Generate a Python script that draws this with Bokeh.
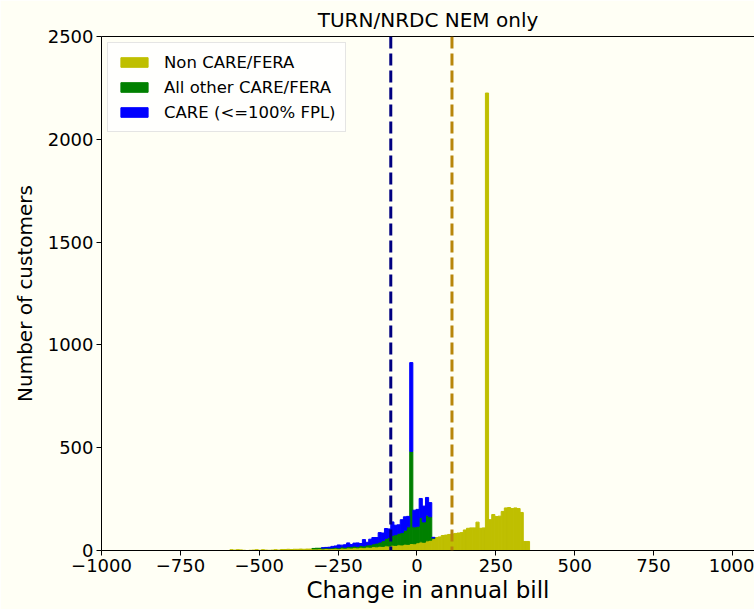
import numpy as np
from bokeh.plotting import figure
from bokeh.models import ColumnDataSource, Span, LinearAxis, FixedTicker, Range1d
from bokeh.embed import file_html
from bokeh.resources import INLINE

# ---- data ----
bin_start = -593
bin_width = 10

non_care = [4, 2, 4, 3, 1, 0, 1, 2, 4, 1, 4, 2, 1, 2, 4, 2,
            5, 5, 6, 5, 6, 6, 7, 6, 7, 7, 8, 8, 9, 8, 10,
            9, 10, 11, 9, 12, 11, 13, 12, 14, 13, 16, 14, 17, 16, 19, 18, 21, 20, 23, 22, 26, 25, 28, 27, 31, 30,
            34, 33, 38, 42, 40, 47, 50,
            58, 63, 66, 73, 75, 78, 80, 83, 85, 87, 100, 108, 110, 110, 138, 108, 110,
            2225, 150, 175, 165, 167, 190, 207, 209, 204, 207, 204, 185, 44, 44]

other_care = [0] * 26 + [2, 3, 2, 4, 3, 3, 3, 5, 4, 6, 5, 6, 7, 8, 7, 9, 8, 10, 12, 14,
                         18, 20, 28, 36, 42, 48, 52, 56, 60, 68, 85, 448, 82, 80, 118,
                         99, 125, 114, 3] + [0] * 30

care_fpl = [0] * 29 + [1, 2, 4, 7, 6, 14, 8, 12, 18, 10, 14, 17, 9, 31, 13, 27, 30, 27,
                       46, 37, 48, 41, 65, 46, 41, 63, 65, 51, 432, 81, 82, 93, 77, 86,
                       69, 3] + [0] * 30

series_values = [non_care, other_care, care_fpl]
series_names = ["Non CARE/FERA", "All other CARE/FERA", "CARE (<=100% FPL)"]
series_colors = ["#bfbf00", "#008000", "#0000ff"]

mean_care = -83
mean_non = 111

x_ticks = [-1000, -750, -500, -250, 0, 250, 500, 750, 1000]
x_tick_labels = ["\u22121000", "\u2212750", "\u2212500", "\u2212250", "0", "250", "500", "750", "1000"]
y_ticks = [0, 500, 1000, 1500, 2000, 2500]

FONT = "DejaVu Sans"
BG = "#fffff5"

p = figure(width=754, height=609, output_backend="svg", toolbar_location=None,
           x_range=Range1d(-1000, 1070), y_range=Range1d(0, 2500),
           title="TURN/NRDC NEM only",
           min_border_left=101, min_border_right=0, min_border_top=36, min_border_bottom=59)

# stacked histogram: each series sits on the cumulative sum of the previous ones
n_bins = len(non_care)
left_edges = bin_start + bin_width * np.arange(n_bins)
base = np.zeros(n_bins)
for vals, name, col in zip(series_values, series_names, series_colors):
    v = np.asarray(vals, dtype=float)
    keep = v > 0
    src = ColumnDataSource(dict(left=left_edges[keep], right=left_edges[keep] + bin_width,
                                bottom=base[keep], top=(base + v)[keep]))
    p.quad(left="left", right="right", bottom="bottom", top="top", source=src,
           fill_color=col, line_color=col, line_width=1.0, legend_label=name)
    base = base + v

p.add_layout(Span(location=mean_care, dimension="height", line_color="#000080",
                  line_width=3, line_dash="12 5"))
p.add_layout(Span(location=mean_non, dimension="height", line_color="#b8860b",
                  line_width=3, line_dash="12 5"))

p.background_fill_color = BG
p.border_fill_color = BG
p.outline_line_color = None
p.xgrid.visible = False
p.ygrid.visible = False

p.title.text_font = FONT
p.title.text_font_size = "20px"
p.title.text_font_style = "normal"
p.title.align = "center"
p.title.text_color = "black"

p.xaxis.ticker = FixedTicker(ticks=x_ticks)
p.xaxis.major_label_overrides = {t: l for t, l in zip(x_ticks, x_tick_labels)}
p.yaxis.ticker = FixedTicker(ticks=y_ticks)
p.xaxis.axis_label = "Change in annual bill"
p.yaxis.axis_label = "Number of customers"

for ax in (p.xaxis, p.yaxis):
    ax.axis_line_color = "black"
    ax.axis_line_width = 1
    ax.major_tick_line_color = "black"
    ax.major_tick_out = 5
    ax.major_tick_in = 0
    ax.minor_tick_line_color = None
    ax.major_label_text_font = FONT
    ax.major_label_text_font_size = "18px"
    ax.major_label_text_color = "black"
    ax.axis_label_text_font = FONT
    ax.axis_label_text_font_style = "normal"
    ax.axis_label_text_color = "black"
    ax.major_label_standoff = 3

p.xaxis.axis_label_text_font_size = "23px"
p.yaxis.axis_label_text_font_size = "20px"
p.xaxis.axis_label_standoff = 2
p.yaxis.axis_label_standoff = 8

top_axis = LinearAxis(ticker=FixedTicker(ticks=[]), major_label_text_font_size="0px",
                      axis_line_color="black", major_tick_line_color=None,
                      minor_tick_line_color=None)
p.add_layout(top_axis, "above")

lg = p.legend[0]
lg.location = "top_left"
lg.margin = 6
lg.padding = 9
lg.glyph_width = 34
lg.glyph_height = 12
lg.label_height = 20
lg.spacing = 5
lg.label_standoff = 13
lg.label_text_font = FONT
lg.label_text_font_size = "16.5px"
lg.label_text_color = "black"
lg.background_fill_color = "white"
lg.background_fill_alpha = 0.8
lg.border_line_color = "#cccccc"
lg.border_line_width = 1

open("out.html", "w").write(file_html(p, INLINE))
